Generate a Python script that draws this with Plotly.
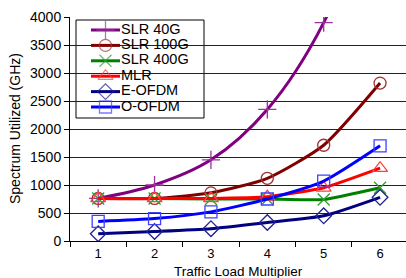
import plotly.graph_objects as go

# ---- data ----
categories = ["1", "2", "3", "4", "5", "6"]
series_names = ["SLR 40G", "SLR 100G", "SLR 400G", "MLR", "E-OFDM", "O-OFDM"]
slr40 = [760, 1000, 1450, 2350, 3900, 6500]
slr100 = [760, 760, 860, 1120, 1710, 2820]
slr400 = [760, 760, 750, 750, 740, 950]
mlr = [760, 760, 760, 790, 950, 1300]
eofdm = [130, 170, 220, 330, 450, 780]
oofdm = [350, 400, 520, 750, 1070, 1700]
y_ticks = [0, 500, 1000, 1500, 2000, 2500, 3000, 3500, 4000]

values = [slr40, slr100, slr400, mlr, eofdm, oofdm]
line_colors = ["#800080", "#800000", "#008000", "#FF0000", "#000080", "#0000FF"]
marker_colors = ["#9933A0", "#A03030", "#30A030", "#FF4040", "#202090", "#4040FF"]
symbols = ["cross-thin-open", "circle-open", "x-thin-open", "triangle-up-open",
           "diamond-open", "square-open"]
sizes = [13, 12, 12, 13, 12, 12]
smooth = [1.0, 0.6, 0.4, 0.5, 0.6, 0.6]

FONT = "Arial, Liberation Sans, sans-serif"

fig = go.Figure()
for name, vals, lc, mc, sym, sz, sm in zip(series_names, values, line_colors,
                                            marker_colors, symbols, sizes, smooth):
    fig.add_trace(go.Scatter(
        x=categories, y=vals, name=name, mode="lines+markers",
        line=dict(color=lc, width=3, shape="spline", smoothing=sm),
        marker=dict(symbol=sym, size=sz, color=mc, line=dict(color=mc, width=1.3)),
        showlegend=False, cliponaxis=True,
    ))

# ---- custom legend on an overlay axis (pixel-like units) ----
key_x0, key_xm, key_x1, text_x = 21, 35.5, 50, 51
for i, (name, lc, mc, sym, sz) in enumerate(zip(series_names, line_colors,
                                                marker_colors, symbols, sizes)):
    row = 5 - i
    fig.add_trace(go.Scatter(
        x=[key_x0, key_xm, key_x1], y=[row, row, row], mode="lines+markers",
        line=dict(color=lc, width=3),
        marker=dict(symbol=sym, size=[0, sz, 0], color=mc, line=dict(color=mc, width=1.3)),
        xaxis="x2", yaxis="y2", showlegend=False, hoverinfo="skip",
    ))
    fig.add_trace(go.Scatter(
        x=[text_x], y=[row], mode="text", text=[name], textposition="middle right",
        textfont=dict(family=FONT, size=14.5, color="black"),
        xaxis="x2", yaxis="y2", showlegend=False, hoverinfo="skip",
    ))

fig.add_shape(type="rect", xref="paper", yref="paper",
              x0=6 / 336, x1=134 / 336, y0=123 / 224, y1=221 / 224,
              line=dict(color="black", width=1), fillcolor="white", layer="between")

fig.update_layout(
    width=406, height=278,
    margin=dict(l=70, r=0, t=17, b=37),
    paper_bgcolor="white", plot_bgcolor="white",
    font=dict(family=FONT, color="black"),
    xaxis=dict(
        type="category", range=[-0.5, 5.46], tickson="boundaries",
        ticks="outside", ticklen=5, tickcolor="black", tickwidth=1,
        showline=True, linecolor="black", linewidth=1, showgrid=False,
        tickfont=dict(size=13, color="black"), zeroline=False,
    ),
    yaxis=dict(
        range=[0, 4000], tickvals=y_ticks, ticks="outside", ticklen=5,
        tickcolor="black", showline=True, linecolor="black", linewidth=1,
        showgrid=True, gridcolor="#222222", gridwidth=1, zeroline=False,
        tickfont=dict(size=14, color="black"),
    ),
    xaxis2=dict(overlaying="x", range=[0, 336], visible=False),
    yaxis2=dict(overlaying="y", range=[-8.70, 5.844], visible=False),
    annotations=[
        dict(text="Traffic Load Multiplier", xref="paper", yref="paper",
             x=0.5, y=-30 / 224, xanchor="center", yanchor="middle",
             showarrow=False, font=dict(size=13.5, color="black")),
        dict(text="Spectrum Utilized (GHz)", xref="paper", yref="paper",
             x=-55 / 336, y=0.5, xanchor="center", yanchor="middle",
             textangle=-90, showarrow=False, font=dict(size=14, color="black")),
    ],
)

fig.write_html(
    "out.html",
    config={"displayModeBar": False},
    post_script="document.body.style.margin='0';document.body.style.padding='0';",
)
